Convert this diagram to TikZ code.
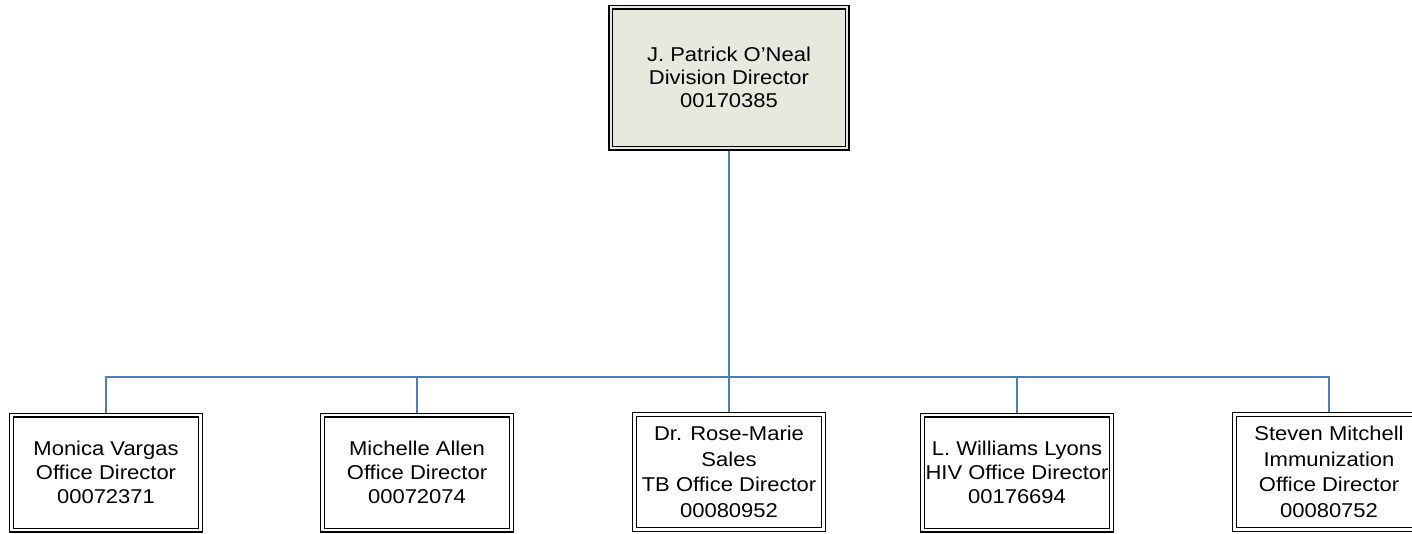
\documentclass[tikz,border=0pt]{standalone}
\usepackage{fontspec}
\setmainfont{Liberation Sans}[FakeStretch=1.1]
\usetikzlibrary{backgrounds}
\definecolor{linkblue}{RGB}{74,126,190}
\definecolor{topfill}{RGB}{232,232,222}
\tikzset{
  person/.style={draw=black, line width=1.3pt, double=white, double distance=2.4pt,
    fill=white, minimum width=189pt, minimum height=115pt, align=center,
    inner sep=0pt, font=\fontsize{20}{24}\selectfont},
  person4/.style={person, font=\fontsize{20}{25.5}\selectfont},
  chief/.style={person, double=topfill, fill=topfill, minimum width=236.5pt,
    minimum height=141pt, font=\fontsize{20}{23}\selectfont},
  link/.style={draw=linkblue, line width=1.5pt},
  mainlink/.style={draw=linkblue, line width=2.6pt}
}
\begin{document}
\begin{tikzpicture}[x=1pt,y=-1pt]
\useasboundingbox (0,0) rectangle (1412,533);
\clip (0,0) rectangle (1412,533);
\node[chief] (top) at (729,77.5) {J. Patrick O’Neal\\Division Director\\00170385};
\node[person] (b1) at (106,472.5) {Monica Vargas\\Office Director\\00072371};
\node[person] (b2) at (417,472.5) {Michelle Allen\\Office Director\\00072074};
\node[person4] (b3) at (729,472) {Dr. Rose-Marie\\Sales\\TB Office Director\\00080952};
\node[person] (b4) at (1017,472.5) {L. Williams Lyons\\HIV Office Director\\00176694};
\node[person4] (b5) at (1329,472) {Steven Mitchell\\Immunization\\Office Director\\00080752};
\coordinate (bus) at (729,377);
\begin{scope}[on background layer]
\draw[mainlink] (top.south) -- (bus);
\draw[link] (b1.north) |- (bus) -| (b5.north);
\draw[link] (b2.north) -- (b2.north |- bus);
\draw[link] (b3.north) -- (b3.north |- bus);
\draw[link] (b4.north) -- (b4.north |- bus);
\end{scope}
\end{tikzpicture}
\end{document}
